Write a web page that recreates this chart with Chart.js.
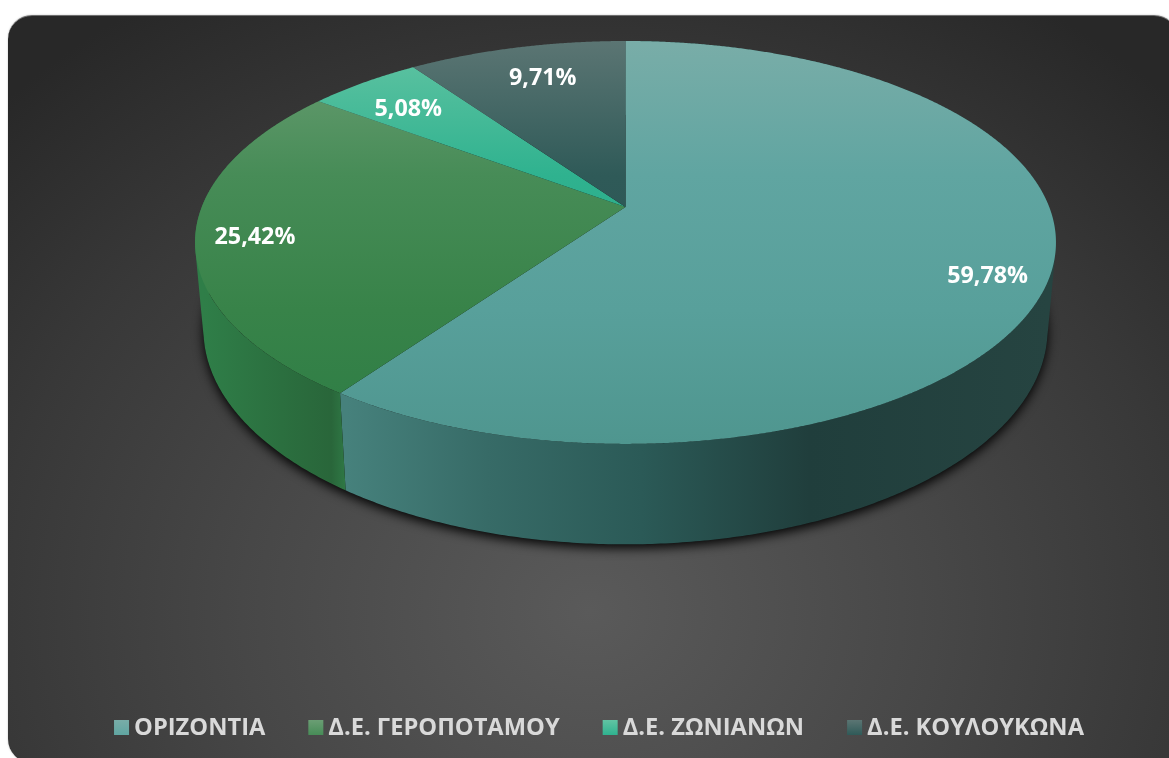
<!DOCTYPE html>
<html lang="el">
<head>
<meta charset="utf-8">
<title>Pie</title>
<script src="https://cdn.jsdelivr.net/npm/chart.js@4/dist/chart.umd.min.js"></script>
<style>
  html, body { margin: 0; background: #fff; overflow: hidden; }
  #wrap { position: relative; width: 1169px; height: 758px; overflow: hidden; }
  #card {
    position: absolute; left: 8px; top: 15px; width: 1170px; height: 748px;
    border-radius: 24px; border-top: 1px solid #6e6e6e; box-sizing: border-box;
    background: radial-gradient(ellipse 830px 720px at 582px 595px, #5a5a5a 0%, #474747 42%, #383838 72%, #282828 100%);
    box-shadow: 0 0 2px rgba(0,0,0,.25);
  }
  canvas { position: absolute; left: 0; top: 0; }
</style>
</head>
<body>
<div id="wrap">
  <div id="card"></div>
  <canvas id="pie" width="1169" height="758"></canvas>
</div>
<script>
const categories = ['ΟΡΙΖΟΝΤΙΑ', 'Δ.Ε. ΓΕΡΟΠΟΤΑΜΟΥ', 'Δ.Ε. ΖΩΝΙΑΝΩΝ', 'Δ.Ε. ΚΟΥΛΟΥΚΩΝΑ'];
const shares = [59.78, 25.42, 5.08, 9.71];
const baseColors = ['#5aa19d', '#3a8a52', '#34b792', '#365f5e'];

// top face shading, light at the back of the pie
const faceStops = [
  ['#79ada8', '#60a5a1', '#58a09b', '#4f968f'],
  ['#6b9e74', '#478c57', '#388349', '#2d7d45'],
  ['#62c4a3', '#2fb28f', '#2aa684', '#2aa684'],
  ['#5b7573', '#2f5a58', '#2c5554', '#2c5554']
];
// side wall shading, left to right
const wallStops = [
  [[0, '#46817c'], [0.2, '#376b67'], [0.42, '#2b5a57'], [0.66, '#203e3c'], [1, '#264441']],
  [[0, '#2f7e48'], [0.55, '#2b6f3f'], [0.9, '#29663a'], [1, '#2f7845']],
  [[0, '#239477'], [1, '#239477']],
  [[0, '#274a49'], [1, '#274a49']]
];
// radial position and pixel nudge of each percent label
const labelSpots = [[0.84, 7, 17], [0.87, 2.5, 3], [0.8, -3, 4], [0.77, 4, -2]];

// perspective of the tilted disc, in units of the pie radius
const top3d = { k: 0.176, sx: 2.047, sy: 0.943, dy: 0 };
const low3d = { k: 0.176, sx: 2.007, sy: 1.005, dy: 0.41 };

function project(arc, view, angle, r) {
  const u = Math.cos(angle) * r;
  const v = Math.sin(angle) * r;
  const w = 1 - view.k * v;
  return {
    x: arc.x + arc.outerRadius * view.sx * u / w,
    y: arc.y + arc.outerRadius * (view.dy + view.sy * v / w)
  };
}

function horizontalGradient(ctx, x0, x1, stops) {
  const g = ctx.createLinearGradient(x0, 0, x1, 0);
  stops.forEach(s => g.addColorStop(s[0], s[1]));
  return g;
}

function verticalGradient(ctx, y0, y1, colors) {
  const g = ctx.createLinearGradient(0, y0, 0, y1);
  colors.forEach((c, i) => g.addColorStop(i / (colors.length - 1), c));
  return g;
}

// all quads wound the same way, otherwise overlaps cancel at the silhouette
function addQuad(ctx, pts) {
  let area = 0;
  pts.forEach((p, i) => {
    const q = pts[(i + 1) % pts.length];
    area += p.x * q.y - q.x * p.y;
  });
  const ordered = area < 0 ? pts.slice().reverse() : pts;
  ctx.moveTo(ordered[0].x, ordered[0].y);
  ordered.slice(1).forEach(p => ctx.lineTo(p.x, p.y));
  ctx.closePath();
}

const pie3d = {
  id: 'pie3d',
  // default flat arcs are replaced by the projected ones below
  beforeDatasetDraw() {
    return false;
  },
  afterDatasetsDraw(chart) {
    const ctx = chart.ctx;
    const arcs = chart.getDatasetMeta(0).data;
    const step = Math.PI / 720;
    const first = arcs[0];

    // drop shadow under the bottom rim
    ctx.save();
    ctx.shadowColor = 'rgba(0,0,0,0.95)';
    ctx.shadowBlur = 11;
    ctx.shadowOffsetY = 4;
    ctx.fillStyle = '#111';
    ctx.beginPath();
    for (let a = 0; a < Math.PI * 2; a += step) {
      const p = project(first, low3d, a, 1);
      ctx.lineTo(p.x, p.y);
    }
    ctx.closePath();
    ctx.fill();
    ctx.restore();

    // side walls, thin quads in one path so the silhouette joins both rims
    arcs.forEach((arc, i) => {
      let minX = Infinity, maxX = -Infinity;
      for (let a = arc.startAngle; a < arc.endAngle; a += step) {
        if (Math.sin(a) > -0.1) {
          const p = project(arc, low3d, a, 1);
          minX = Math.min(minX, p.x);
          maxX = Math.max(maxX, p.x);
        }
      }
      if (minX === Infinity) return;
      ctx.fillStyle = horizontalGradient(ctx, minX, maxX, wallStops[i]);
      ctx.beginPath();
      for (let a = arc.startAngle; a < arc.endAngle; a += step * 2) {
        const b = Math.min(a + step * 2, arc.endAngle);
        addQuad(ctx, [
          project(arc, top3d, a, 1),
          project(arc, top3d, b, 1),
          project(arc, low3d, b, 1),
          project(arc, low3d, a, 1)
        ]);
      }
      ctx.fill();
    });

    // top face
    const yTop = project(first, top3d, -Math.PI / 2, 1).y;
    const yLow = project(first, top3d, Math.PI / 2, 1).y;
    arcs.forEach((arc, i) => {
      ctx.fillStyle = verticalGradient(ctx, yTop, yLow, faceStops[i]);
      ctx.beginPath();
      ctx.moveTo(arc.x, arc.y);
      for (let a = arc.startAngle; a < arc.endAngle; a += step) {
        const p = project(arc, top3d, a, 1);
        ctx.lineTo(p.x, p.y);
      }
      const e = project(arc, top3d, arc.endAngle, 1);
      ctx.lineTo(e.x, e.y);
      ctx.closePath();
      ctx.fill();
    });

    // percent labels
    ctx.save();
    ctx.font = 'bold 23.3px "Open Sans"';
    ctx.fillStyle = '#fff';
    ctx.textAlign = 'center';
    ctx.textBaseline = 'middle';
    arcs.forEach((arc, i) => {
      const mid = (arc.startAngle + arc.endAngle) / 2;
      const spot = labelSpots[i];
      const p = project(arc, top3d, mid, spot[0]);
      ctx.fillText(shares[i].toFixed(2).replace('.', ',') + '%', p.x + spot[1], p.y + spot[2]);
    });
    ctx.restore();

    // legend row
    ctx.save();
    ctx.font = 'bold 23.7px "Open Sans"';
    ctx.textBaseline = 'middle';
    const widths = categories.map(c => ctx.measureText(c).width);
    const total = widths.reduce((s, w) => s + w + 20, 0) + 43 * (categories.length - 1);
    let x = 599 - total / 2;
    categories.forEach((c, i) => {
      ctx.fillStyle = verticalGradient(ctx, 720, 735, faceStops[i].slice(0, 2));
      ctx.fillRect(x, 720, 15, 15);
      ctx.fillStyle = '#d9d9d9';
      ctx.fillText(c, x + 20, 728);
      x += 20 + widths[i] + 43;
    });
    ctx.restore();
  }
};

new Chart(document.getElementById('pie'), {
  type: 'pie',
  data: {
    labels: categories,
    datasets: [{ data: shares, backgroundColor: baseColors, borderWidth: 0 }]
  },
  options: {
    responsive: false,
    animation: false,
    rotation: 0,
    layout: { padding: { left: 82, right: 0, top: 0, bottom: 344 } },
    plugins: { legend: { display: false }, tooltip: { enabled: false } }
  },
  plugins: [pie3d]
});
</script>
</body>
</html>
